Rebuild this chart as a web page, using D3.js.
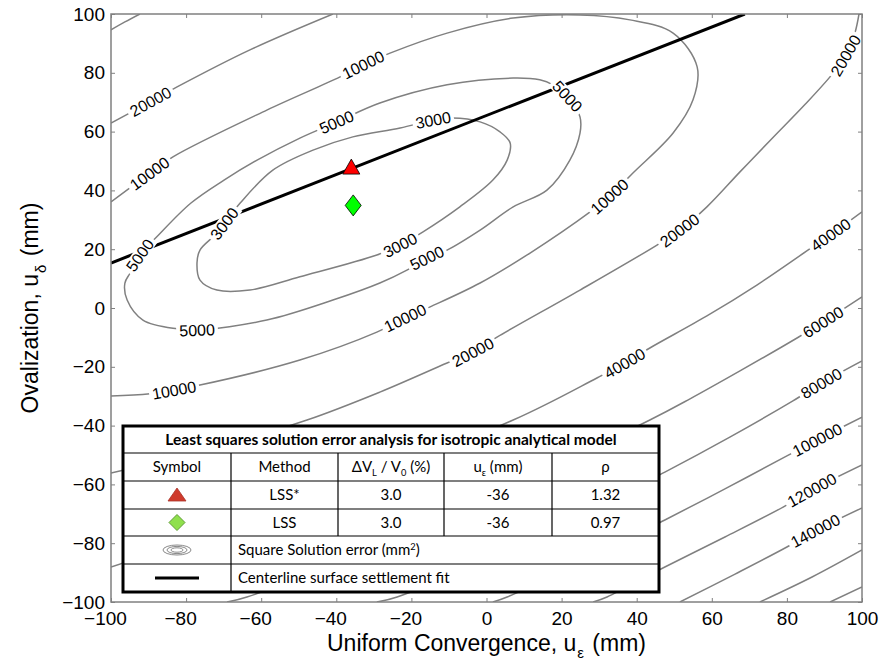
<!DOCTYPE html>
<html>
<head>
<meta charset="utf-8">
<script src="https://cdnjs.cloudflare.com/ajax/libs/d3/7.8.5/d3.min.js"></script>
<style>
  body { margin: 0; background: #fff; }
  svg { display: block; }
</style>
</head>
<body>
<div id="chart"></div>
<script>
// axis ticks
var tickValues = [-100, -80, -60, -40, -20, 0, 20, 40, 60, 80, 100];

// contour lines of the square solution error (mm^2), traced as [u_eps, u_delta]
var c3000 = [[-9.2,64.6],[-1.7,63.3],[3.6,59.9],[6.3,56.1],[5.5,50.3],[1.7,43.5],[-7.1,34.4],[-16.9,25.9],[-23.0,21.4],[-29.2,18.0],[-49.7,10.6],[-63.0,6.1],[-71.8,6.1],[-76.3,9.5],[-77.1,15.3],[-76.3,19.7],[-71.8,25.5],[-65.6,35.7],[-56.9,46.9],[-46.2,53.7],[-35.6,58.2],[-23.0,61.2],[-14.3,63.9]];
var c5000 = [[-28.4,69.7],[-10.5,75.9],[7.1,78.2],[14.2,77.6],[17.7,75.9],[21.7,71.8],[24.9,65.0],[24.9,59.5],[22.2,50.3],[16.1,40.1],[7.1,34.4],[-1.7,26.5],[-10.5,19.7],[-15.8,17.0],[-21.2,12.9],[-28.4,8.5],[-40.9,2.7],[-58.5,-4.1],[-77.1,-7.5],[-82.4,-7.1],[-91.5,-4.1],[-95.7,2.7],[-96.3,8.5],[-94.9,11.9],[-92.3,18.0],[-87.8,24.2],[-78.7,35.7],[-69.9,43.5],[-61.1,50.3],[-49.7,57.8],[-39.8,63.3]];
var c10000 = [[-100,36.1],[-89.6,45.9],[-83.5,51.4],[-58.5,67.3],[-39.0,78.6],[-32.9,82.7],[-25.7,86.7],[-10.5,93.5],[7.1,98.6],[24.9,99.7],[38.2,98.0],[49.7,93.5],[56.1,82.0],[55.0,70.8],[49.7,59.5],[39.0,45.9],[32.9,38.1],[27.6,32.7],[11.6,18.7],[-1.7,8.5],[-15.0,0.4],[-21.7,-3.4],[-29.2,-8.2],[-49.7,-17.7],[-76.3,-26.2],[-89.6,-29.2],[-100,-29.9]];
var c20000a = [[-100,62.9],[-89.6,70.1],[-82.4,75.2],[-63.0,87.8],[-40.9,100]];
var c20000b = [[-100,-56.1],[-76.3,-49.0],[-47.8,-38.1],[-28.4,-28.6],[-10.5,-18.7],[-3.6,-15.0],[2.8,-9.9],[24.9,6.1],[45.4,21.4],[51.5,26.5],[58.7,34.4],[67.5,46.3],[76.3,58.0],[84.8,69.2],[92.3,79.9],[96.0,86.7],[98.1,93.5],[99.2,100]];
var c40000a = [[-100,94.6],[-96.3,97.3],[-92.3,100]];
var c40000b = [[-100,-88.1],[-49.7,-66.3],[7.1,-38.1],[29.4,-23.8],[36.9,-18.7],[43.5,-13.6],[58.7,-2.7],[72.0,7.8],[85.3,19.4],[91.5,24.8],[100,32.7]];
var c60000 = [[-69.1,-100],[-63.8,-98.3],[-12.4,-72.1],[43.5,-38.1],[54.2,-30.9],[67.5,-21.4],[82.7,-10.2],[89.6,-4.8],[100,3.8]];
var c80000 = [[-29.2,-100],[-23.8,-98.3],[11.6,-78.9],[47.5,-55.8],[64.8,-43.9],[81.6,-31.6],[89.3,-25.5],[100,-18.0]];
var c100000 = [[1.7,-100],[5.5,-98.3],[24.9,-86.7],[47.5,-72.1],[64.0,-61.2],[80.0,-50.3],[88.0,-44.9],[100,-37.1]];
var c120000 = [[28.4,-100],[32.1,-98.3],[47.5,-88.1],[63.5,-77.9],[79.0,-67.7],[86.7,-61.9],[100,-53.4]];
var c140000 = [[51.5,-100],[66.2,-90.5],[80.0,-81.3],[87.5,-75.8],[100,-68.0]];
var c160000 = [[72.8,-100],[86.7,-91.5],[100,-82.3]];
var c180000 = [[91.5,-100],[100,-94.9]];

var contourLines = [
  {level: 3000, closed: true, pts: c3000},
  {level: 5000, closed: true, pts: c5000},
  {level: 10000, closed: false, pts: c10000},
  {level: 20000, closed: false, pts: c20000a},
  {level: 20000, closed: false, pts: c20000b},
  {level: 40000, closed: false, pts: c40000a},
  {level: 40000, closed: false, pts: c40000b},
  {level: 60000, closed: false, pts: c60000},
  {level: 80000, closed: false, pts: c80000},
  {level: 100000, closed: false, pts: c100000},
  {level: 120000, closed: false, pts: c120000},
  {level: 140000, closed: false, pts: c140000},
  {level: 160000, closed: false, pts: c160000},
  {level: 180000, closed: false, pts: c180000}
];

// where the contour labels sit
var labelLevels = [3000, 3000, 3000, 5000, 5000, 5000, 5000, 5000, 10000, 10000, 10000, 10000, 10000, 20000, 20000, 20000, 20000, 40000, 40000, 60000, 80000, 100000, 120000, 140000];
var labelU = [-14.3, -71.0, -23.0, -92.3, -39.8, 21.7, -77.1, -15.8, -89.6, -32.9, 32.9, -21.7, -83.0, -89.6, -3.6, 51.5, 96.0, 36.9, 91.5, 89.6, 89.3, 88.0, 86.7, 87.5];
var labelD = [63.9, 29.9, 21.4, 18.0, 63.3, 71.8, -7.5, 17.0, 45.9, 82.7, 38.1, -3.4, -28.6, 70.1, -15.0, 26.5, 85.4, -18.7, 24.8, -4.8, -25.8, -44.9, -61.9, -75.5];

// centerline surface settlement fit
var fitLine = [[-100, 15.3], [68.8, 100]];

// least squares solutions
var methods = ["LSS*", "LSS"];
var volumeLoss = ["3.0", "3.0"];
var uEps = ["-36", "-36"];
var rho = ["1.32", "0.97"];
var solU = [-36.0, -35.5];
var solD = [48.1, 34.9];

var tableTitle = "Least squares solution error analysis for isotropic analytical model";
var tableHeaders = ["Symbol", "Method", "ΔV_L / V_0 (%)", "u_ε (mm)", "ρ"];
var legendTexts = ["Square Solution error (mm^2)", "Centerline surface settlement fit"];


var margin = {top: 14, right: 19, bottom: 60, left: 111};
var W = 881, H = 662;
var width = W - margin.left - margin.right;
var height = H - margin.top - margin.bottom;
var axisFont = '"Liberation Sans", Arial, Helvetica, sans-serif';
var tableFont = 'Lato, "Open Sans", sans-serif';

var svg = d3.select("#chart")
    .append("svg")
    .attr("width", W)
    .attr("height", H)
    .style("font-family", axisFont);

var g = svg.append("g")
    .attr("transform", "translate(" + margin.left + "," + margin.top + ")");

var x = d3.scaleLinear().domain([-100, 100]).range([0, width]);
var y = d3.scaleLinear().domain([-100, 100]).range([height, 0]);

g.append("clipPath").attr("id", "plot-clip")
    .append("rect").attr("width", width).attr("height", height);

// contours
var contourLayer = g.append("g").attr("clip-path", "url(#plot-clip)");
var contourPaths = [];
contourLines.forEach(function(c) {
    var line = d3.line()
        .x(function(d) { return x(d[0]); })
        .y(function(d) { return y(d[1]); })
        .curve(c.closed ? d3.curveCatmullRomClosed : d3.curveCatmullRom);
    var p = contourLayer.append("path")
        .attr("d", line(c.pts))
        .attr("fill", "none")
        .attr("stroke", "#808080")
        .attr("stroke-width", 1.5);
    contourPaths.push({level: c.level, node: p.node()});
});

// fit line
g.append("path")
    .attr("clip-path", "url(#plot-clip)")
    .attr("d", d3.line().x(function(d) { return x(d[0]); }).y(function(d) { return y(d[1]); })(fitLine))
    .attr("fill", "none")
    .attr("stroke", "#000")
    .attr("stroke-width", 3);

// contour labels, rotated along the line they sit on
var labelLayer = g.append("g").attr("clip-path", "url(#plot-clip)");
labelLevels.forEach(function(level, i) {
    var px = x(labelU[i]), py = y(labelD[i]);
    var best = null;
    contourPaths.filter(function(p) { return p.level === level; }).forEach(function(p) {
        var L = p.node.getTotalLength();
        for (var s = 0; s <= L; s += 1.5) {
            var q = p.node.getPointAtLength(s);
            var dd = (q.x - px) * (q.x - px) + (q.y - py) * (q.y - py);
            if (!best || dd < best.dd) best = {dd: dd, node: p.node, s: s, L: L, q: q};
        }
    });
    var a = best.node.getPointAtLength(Math.max(0, best.s - 6));
    var b = best.node.getPointAtLength(Math.min(best.L, best.s + 6));
    var ang = Math.atan2(b.y - a.y, b.x - a.x) * 180 / Math.PI;
    if (ang > 90) ang -= 180;
    if (ang < -90) ang += 180;
    var lg = labelLayer.append("g")
        .attr("transform", "translate(" + best.q.x + "," + best.q.y + ") rotate(" + ang + ")");
    var rect = lg.append("rect").attr("fill", "#fff");
    var t = lg.append("text")
        .attr("text-anchor", "middle")
        .attr("dy", "0.36em")
        .attr("font-size", 16)
        .attr("fill", "#000")
        .text(level);
    var bb = t.node().getBBox();
    rect.attr("x", -bb.width / 2 - 3).attr("y", -7).attr("width", bb.width + 6).attr("height", 14);
});

// frame and axes
g.append("rect")
    .attr("width", width).attr("height", height)
    .attr("fill", "none").attr("stroke", "#808080").attr("stroke-width", 1.5);

function styleAxis(sel) {
    sel.attr("font-family", axisFont).attr("font-size", 19);
    sel.select(".domain").remove();
    sel.selectAll(".tick line").attr("stroke", "#808080");
    sel.selectAll(".tick text").attr("fill", "#000");
}

g.append("g")
    .attr("transform", "translate(0," + height + ")")
    .call(d3.axisBottom(x).tickValues(tickValues).tickSize(-4).tickPadding(9.5))
    .call(styleAxis)
    .selectAll(".tick text")
    .attr("dx", function(d) { return d < 0 ? -6 : 0; });

g.append("g")
    .call(d3.axisLeft(y).tickValues(tickValues).tickSize(-4).tickPadding(6))
    .call(styleAxis);

g.append("g")
    .call(d3.axisTop(x).tickValues(tickValues).tickSize(-4).tickFormat(""))
    .call(styleAxis);

g.append("g")
    .attr("transform", "translate(" + width + ",0)")
    .call(d3.axisRight(y).tickValues(tickValues).tickSize(-4).tickFormat(""))
    .call(styleAxis);

// axis titles
var xTitle = g.append("text")
    .attr("x", width / 2)
    .attr("y", 636.5)
    .attr("text-anchor", "middle")
    .attr("font-size", 23);
xTitle.append("tspan").text("Uniform Convergence, u");
xTitle.append("tspan").attr("font-size", 15).attr("dy", 7).attr("dx", 1).text("ε");
xTitle.append("tspan").attr("dy", -7).attr("dx", 2).text(" (mm)");

var yTitle = svg.append("text")
    .attr("transform", "translate(38," + (margin.top + height / 2) + ") rotate(-90)")
    .attr("text-anchor", "middle")
    .attr("font-size", 23);
yTitle.append("tspan").text("Ovalization, u");
yTitle.append("tspan").attr("font-size", 15).attr("dy", 8).attr("dx", 1).text("δ");
yTitle.append("tspan").attr("dy", -8).attr("dx", 2).text(" (mm)");

// solution markers
var triPath = "M0,-7.5L8.5,7.5L-8.5,7.5Z";
var diaPath = "M0,-10.5L8,0L0,10.5L-8,0Z";
g.append("path")
    .attr("d", triPath)
    .attr("transform", "translate(" + x(solU[0]) + "," + y(solD[0]) + ")")
    .attr("fill", "#ff0000").attr("stroke", "#000").attr("stroke-width", 0.8);
g.append("path")
    .attr("d", diaPath)
    .attr("transform", "translate(" + x(solU[1]) + "," + y(solD[1]) + ")")
    .attr("fill", "#00ff00").attr("stroke", "#000").attr("stroke-width", 0.8);

// summary table
var colEdges = [0, 108, 215, 321, 429, 536];
var rowEdges = [0, 27, 55, 83, 110, 138, 166];
var tg = svg.append("g").attr("transform", "translate(123,426)")
    .style("font-family", tableFont);

tg.append("rect")
    .attr("width", colEdges[5]).attr("height", rowEdges[6])
    .attr("fill", "#fff");

// text with _x subscripts and ^x superscripts
function richText(sel, str) {
    var parts = str.split(/([_^].)/), back = 0;
    parts.forEach(function(p) {
        if (!p) return;
        if (p[0] === "_" || p[0] === "^") {
            var shift = p[0] === "_" ? 4 : -5;
            sel.append("tspan").attr("font-size", "0.62em").attr("dy", shift - back).text(p[1]);
            back = shift;
        } else {
            var ts = sel.append("tspan").text(p);
            if (back) ts.attr("dy", -back);
            back = 0;
        }
    });
}

function hLine(y0, x0, x1, w) {
    tg.append("line").attr("x1", x0).attr("x2", x1).attr("y1", y0).attr("y2", y0)
        .attr("stroke", "#000").attr("stroke-width", w);
}
function vLine(x0, y0, y1, w) {
    tg.append("line").attr("x1", x0).attr("x2", x0).attr("y1", y0).attr("y2", y1)
        .attr("stroke", "#000").attr("stroke-width", w);
}

for (var r = 1; r < rowEdges.length - 1; r++) hLine(rowEdges[r], 0, colEdges[5], 1.2);
for (var c = 1; c < colEdges.length - 1; c++) vLine(colEdges[c], rowEdges[1], c === 1 ? rowEdges[6] : rowEdges[4], 1.2);

tg.append("rect")
    .attr("width", colEdges[5]).attr("height", rowEdges[6])
    .attr("fill", "none").attr("stroke", "#000").attr("stroke-width", 3);

function rowMid(r) { return (rowEdges[r] + rowEdges[r + 1]) / 2; }
function colMid(c) { return (colEdges[c] + colEdges[c + 1]) / 2; }

tg.append("text")
    .attr("x", colEdges[5] / 2).attr("y", rowMid(0)).attr("dy", "0.35em")
    .attr("text-anchor", "middle").attr("font-size", 15.5).attr("font-weight", "bold")
    .text(tableTitle);

tableHeaders.forEach(function(h, i) {
    var t = tg.append("text")
        .attr("x", colMid(i)).attr("y", rowMid(1)).attr("dy", "0.35em")
        .attr("text-anchor", "middle").attr("font-size", 15);
    richText(t, h);
});

methods.forEach(function(m, i) {
    var vals = [m, volumeLoss[i], uEps[i], rho[i]];
    vals.forEach(function(v, j) {
        tg.append("text")
            .attr("x", colMid(j + 1)).attr("y", rowMid(2 + i)).attr("dy", "0.35em")
            .attr("text-anchor", "middle").attr("font-size", 15)
            .text(v);
    });
});

// symbols column
tg.append("path")
    .attr("d", "M0,-7L9,6L-9,6Z")
    .attr("transform", "translate(" + colMid(0) + "," + rowMid(2) + ")")
    .attr("fill", "#cf3a2c").attr("stroke", "#a8342a").attr("stroke-width", 0.8);
tg.append("path")
    .attr("d", "M0,-8L8,0L0,8L-8,0Z")
    .attr("transform", "translate(" + colMid(0) + "," + rowMid(3) + ")")
    .attr("fill", "#8fe04c").attr("stroke", "#5f9c35").attr("stroke-width", 1);
[14, 10, 6].forEach(function(rx, i) {
    tg.append("ellipse")
        .attr("cx", colMid(0)).attr("cy", rowMid(4))
        .attr("rx", rx).attr("ry", [5, 3.6, 2.2][i])
        .attr("fill", "none").attr("stroke", "#8a8a8a").attr("stroke-width", 1);
});
tg.append("line")
    .attr("x1", colMid(0) - 22).attr("x2", colMid(0) + 22)
    .attr("y1", rowMid(5)).attr("y2", rowMid(5))
    .attr("stroke", "#000").attr("stroke-width", 3);

legendTexts.forEach(function(s, i) {
    var t = tg.append("text")
        .attr("x", colEdges[1] + 7).attr("y", rowMid(4 + i)).attr("dy", "0.35em")
        .attr("font-size", 15);
    richText(t, s);
});
</script>
</body>
</html>
